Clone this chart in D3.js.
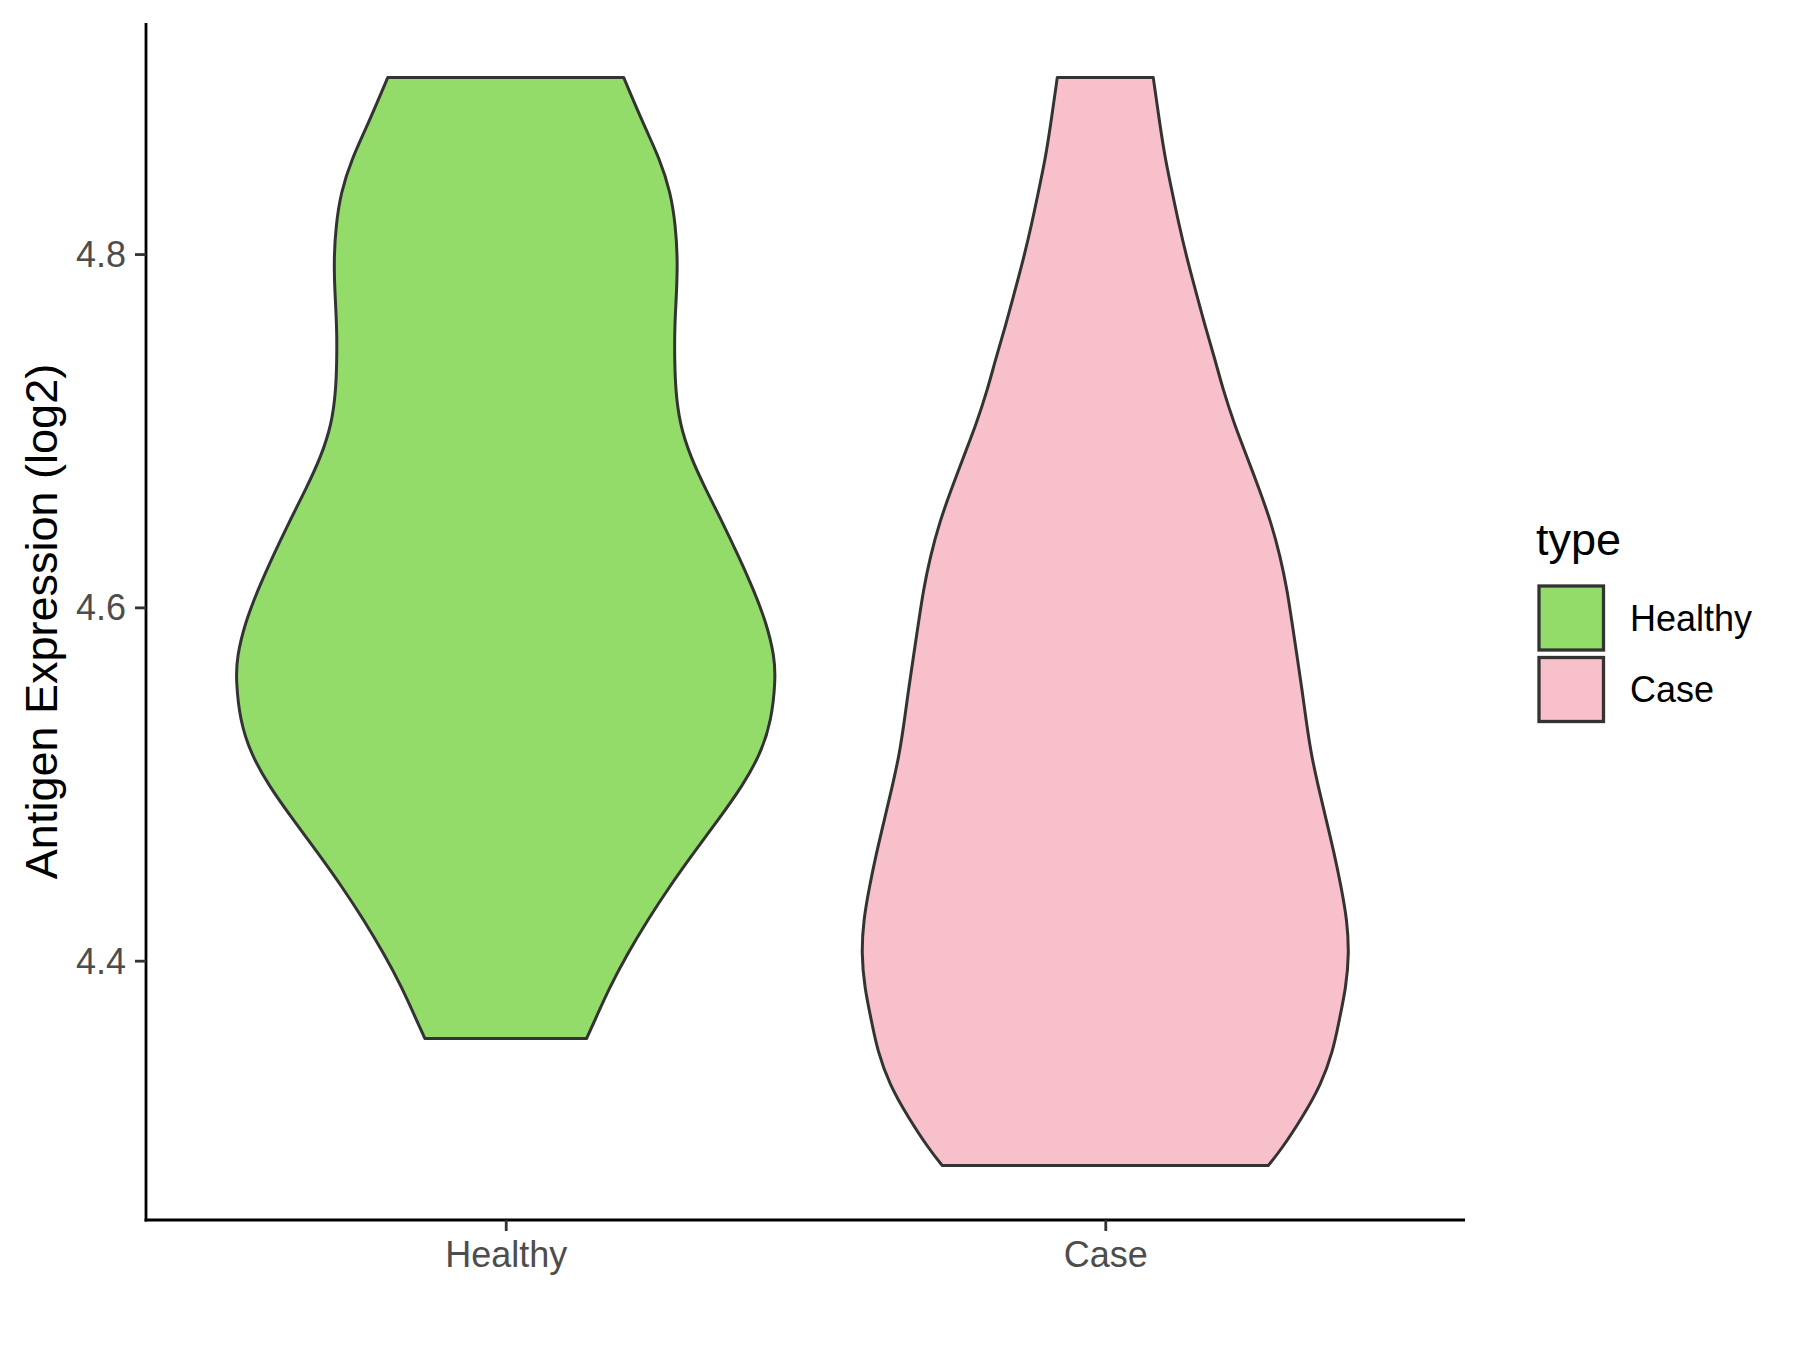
<!DOCTYPE html>
<html>
<head>
<meta charset="utf-8">
<script src="https://cdn.jsdelivr.net/npm/d3@7"></script>
<style>
  html, body { margin: 0; padding: 0; background: #ffffff; }
  svg { display: block; }
  text { font-family: "Liberation Sans", Arial, sans-serif; }
</style>
</head>
<body>
<svg id="chart" width="1800" height="1350"></svg>
<script>
// ---------------- data ----------------
const categories = ["Healthy", "Case"];
const fillColors = ["#93DC6A", "#F7C0CB"];
const yTicks = [4.4, 4.6, 4.8];
const yTitle = "Antigen Expression (log2)";
const legendTitle = "type";

// estimated kernel density outlines (value, density)
const healthyY = [4.900,4.872,4.854,4.835,4.816,4.797,4.778,4.759,4.740,4.723,4.704,4.685,4.667,4.648,4.629,4.610,4.591,4.572,4.559,4.536,4.517,4.499,4.480,4.461,4.442,4.423,4.404,4.385,4.366,4.356];
const healthyDensity = [1.18,1.39,1.54,1.65,1.70,1.72,1.71,1.69,1.69,1.70,1.74,1.85,2.00,2.17,2.33,2.48,2.61,2.69,2.70,2.66,2.55,2.37,2.13,1.88,1.64,1.42,1.22,1.04,0.89,0.81];

const caseY = [4.900,4.872,4.854,4.835,4.816,4.797,4.778,4.759,4.740,4.723,4.704,4.685,4.667,4.648,4.629,4.610,4.591,4.572,4.553,4.536,4.517,4.499,4.480,4.461,4.442,4.423,4.404,4.385,4.366,4.349,4.330,4.312,4.293,4.284];
const caseDensity = [0.48,0.55,0.60,0.67,0.74,0.82,0.91,1.00,1.10,1.18,1.29,1.42,1.54,1.66,1.75,1.82,1.87,1.92,1.97,2.01,2.06,2.13,2.21,2.29,2.36,2.42,2.44,2.41,2.34,2.28,2.16,1.98,1.76,1.63];

const violins = [
  { cat: "Healthy", ys: healthyY, ds: healthyDensity },
  { cat: "Case", ys: caseY, ds: caseDensity }
];

// ---------------- layout ----------------
const panel = { left: 146, right: 1465, top: 23, bottom: 1220 };
const svg = d3.select("#chart");
svg.append("rect").attr("width", 1800).attr("height", 1350).attr("fill", "#ffffff");

const allY = healthyY.concat(caseY);
const yMin = d3.min(allY), yMax = d3.max(allY);
const pad = (yMax - yMin) * 0.05;
const y = d3.scaleLinear().domain([yMin - pad, yMax + pad]).range([panel.bottom, panel.top]);

const x = d3.scalePoint().domain(categories).range([panel.left, panel.right]).padding(0.6);
const maxD = d3.max(healthyDensity.concat(caseDensity));
const w = d3.scaleLinear().domain([0, maxD]).range([0, 0.45 * x.step()]);
const color = d3.scaleOrdinal().domain(categories).range(fillColors);

// ---------------- violins ----------------
violins.forEach(v => {
  const pts = v.ys.map((yy, i) => ({ v: yy, d: v.ds[i] }));
  const cx = x(v.cat);
  const area = d3.area()
    .y(d => y(d.v))
    .x0(d => cx - w(d.d))
    .x1(d => cx + w(d.d))
    .curve(d3.curveBasis);
  svg.append("path")
    .datum(pts)
    .attr("d", area)
    .attr("fill", color(v.cat))
    .attr("stroke", "#333333")
    .attr("stroke-width", 3)
    .attr("stroke-linejoin", "round");
});

// ---------------- axes ----------------
const fontSmall = 36, fontTitle = 45;
const yAxis = d3.axisLeft(y).tickValues(yTicks).tickFormat(d3.format(".1f"))
  .tickSize(11).tickSizeOuter(0).tickPadding(9);
const gy = svg.append("g").attr("transform", `translate(${panel.left},0)`).call(yAxis);
gy.select(".domain").attr("stroke", "#000000").attr("stroke-width", 2.8)
  .attr("d", `M0,${panel.top}V${panel.bottom + 1.4}`);
gy.selectAll(".tick line").attr("stroke", "#333333").attr("stroke-width", 2.8);
gy.selectAll(".tick text").attr("fill", "#4D4D4D").attr("font-size", fontSmall)
  .attr("font-family", "'Liberation Sans', Arial, sans-serif").attr("dy", "0.35em");

const xAxis = d3.axisBottom(x).tickSize(11).tickSizeOuter(0).tickPadding(9);
const gx = svg.append("g").attr("transform", `translate(0,${panel.bottom})`).call(xAxis);
gx.select(".domain").attr("stroke", "#000000").attr("stroke-width", 2.8)
  .attr("d", `M${panel.left - 1.4},0H${panel.right}`);
gx.selectAll(".tick line").attr("stroke", "#333333").attr("stroke-width", 2.8);
gx.selectAll(".tick text").attr("fill", "#4D4D4D").attr("font-size", fontSmall)
  .attr("font-family", "'Liberation Sans', Arial, sans-serif").attr("dy", null)
  .attr("y", 47);

// y title
svg.append("text")
  .attr("transform", `translate(57,${(panel.top + panel.bottom) / 2}) rotate(-90)`)
  .attr("text-anchor", "middle")
  .attr("font-size", fontTitle)
  .attr("fill", "#000000")
  .text(yTitle);

// ---------------- legend ----------------
const lg = svg.append("g");
lg.append("text").attr("x", 1536).attr("y", 555).attr("font-size", fontTitle).attr("fill", "#000").text(legendTitle);
categories.forEach((c, i) => {
  const top = 586 + i * 71.5;
  lg.append("rect").attr("x", 1539).attr("y", top).attr("width", 64.5).attr("height", 64)
    .attr("fill", color(c)).attr("stroke", "#333333").attr("stroke-width", 3.3);
  lg.append("text").attr("x", 1630).attr("y", top + 44.5).attr("font-size", fontSmall)
    .attr("fill", "#000").text(c);
});
</script>
</body>
</html>
